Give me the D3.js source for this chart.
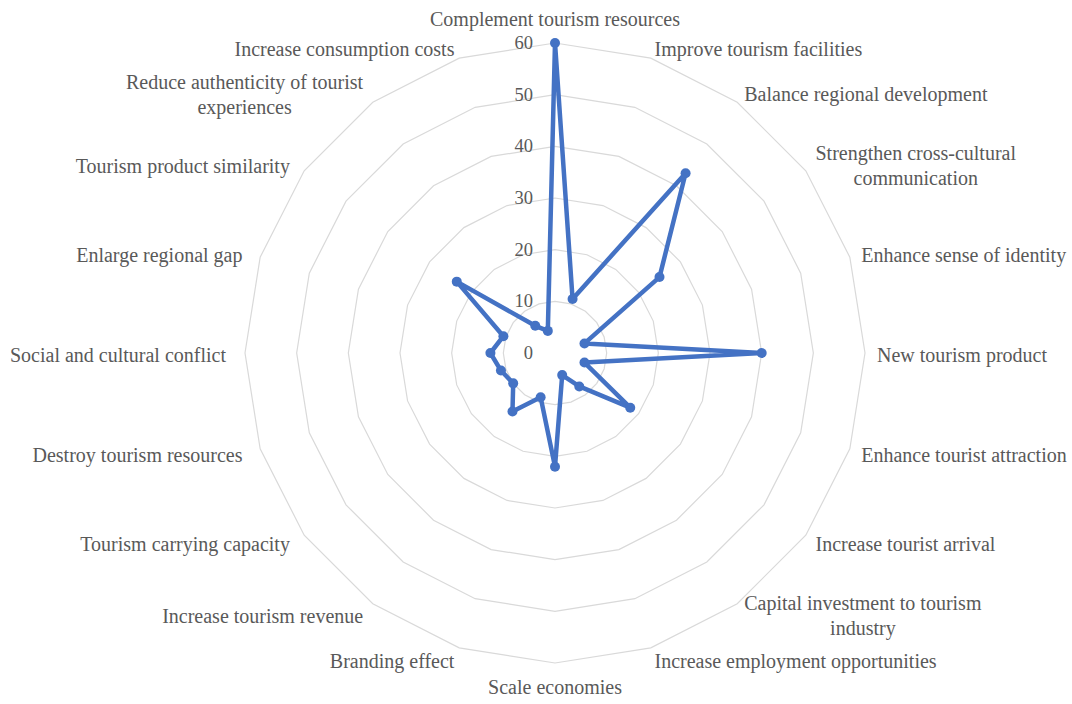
<!DOCTYPE html>
<html><head><meta charset="utf-8">
<script src="https://cdn.jsdelivr.net/npm/d3@7"></script>
<style>
html,body{margin:0;padding:0;background:#fff;}
svg{display:block;}
</style></head>
<body>
<svg id="chart" width="1072" height="704"></svg>
<script>
const categories = [
  "Complement tourism resources",
  "Improve tourism facilities",
  "Balance regional development",
  "Strengthen cross-cultural\ncommunication",
  "Enhance sense of identity",
  "New tourism product",
  "Enhance tourist attraction",
  "Increase tourist arrival",
  "Capital investment to tourism\nindustry",
  "Increase employment opportunities",
  "Scale economies",
  "Branding effect",
  "Increase tourism revenue",
  "Tourism carrying capacity",
  "Destroy tourism resources",
  "Social and cultural conflict",
  "Enlarge regional gap",
  "Tourism product similarity",
  "Reduce authenticity of tourist\nexperiences",
  "Increase consumption costs"
];
const values = [60, 11, 43, 25, 6, 40, 6, 18, 8, 4.5, 22, 9, 14, 10, 11, 12.5, 10.5, 23.5, 6.5, 4.5];
const ticks = [0, 10, 20, 30, 40, 50, 60];

const svg = d3.select("#chart");
const cx = 555, cy = 353, R = 310;
const n = categories.length;
const r = d3.scaleLinear().domain([0, 60]).range([0, R]);
const ang = d3.scaleLinear().domain([0, n]).range([0, 2 * Math.PI]);
const pt = (i, v) => [cx + r(v) * Math.sin(ang(i)), cy - r(v) * Math.cos(ang(i))];

const g = svg.append("g");

// grid rings
const ringLine = d3.line().curve(d3.curveLinearClosed);
g.selectAll("path.ring").data(ticks.filter(t => t > 0)).join("path")
  .attr("class", "ring")
  .attr("d", t => ringLine(d3.range(n).map(i => pt(i, t))))
  .attr("fill", "none").attr("stroke", "#d9d9d9").attr("stroke-width", 1.2);

// tick labels
g.selectAll("text.tick").data(ticks).join("text")
  .attr("class", "tick")
  .attr("x", cx - 22)
  .attr("y", t => cy - r(t))
  .attr("text-anchor", "end")
  .attr("dominant-baseline", "central")
  .attr("font-family", "'Liberation Serif', 'Times New Roman', serif")
  .attr("font-size", 18.5)
  .attr("fill", "#595959")
  .text(t => t);

// series
const line = d3.line().curve(d3.curveLinearClosed);
g.append("path")
  .attr("d", line(values.map((v, i) => pt(i, v))))
  .attr("fill", "none").attr("stroke", "#4472C4").attr("stroke-width", 4.5)
  .attr("stroke-linejoin", "round");
g.selectAll("circle.pt").data(values).join("circle")
  .attr("class", "pt")
  .attr("cx", (v, i) => pt(i, v)[0])
  .attr("cy", (v, i) => pt(i, v)[1])
  .attr("r", 5).attr("fill", "#4472C4");

// category labels
const lh = 25;
categories.forEach((c, i) => {
  const a = ang(i), s = Math.sin(a), co = Math.cos(a);
  const padX = s < -0.05 ? 15 + 4 * s * s : 12;
  const padY = 12;
  const lines = c.split("\n");
  const px = cx + (R + padX) * s, py = cy - (R + padY) * co;
  const t = g.append("text")
    .attr("font-family", "'Liberation Serif', 'Times New Roman', serif")
    .attr("font-size", 20)
    .attr("fill", "#595959")
    .attr("text-anchor", "middle");
  const spans = lines.map((l, k) => t.append("tspan").text(l));
  const widths = spans.map(sp => sp.node().getComputedTextLength());
  const w = d3.max(widths);
  let centerX;
  if (Math.abs(s) < 0.05) centerX = px;
  else if (s > 0) centerX = px + w / 2;
  else centerX = px - w / 2;
  let centerY;
  if (Math.abs(s) < 0.05) centerY = py + (co > 0 ? -1 : 1) * 12;
  else centerY = py + 2;
  const y0 = centerY - (lines.length - 1) * lh / 2;
  spans.forEach((sp, k) => sp.attr("x", centerX).attr("y", y0 + k * lh).attr("dy", "0.35em"));
});
</script>
</body></html>
